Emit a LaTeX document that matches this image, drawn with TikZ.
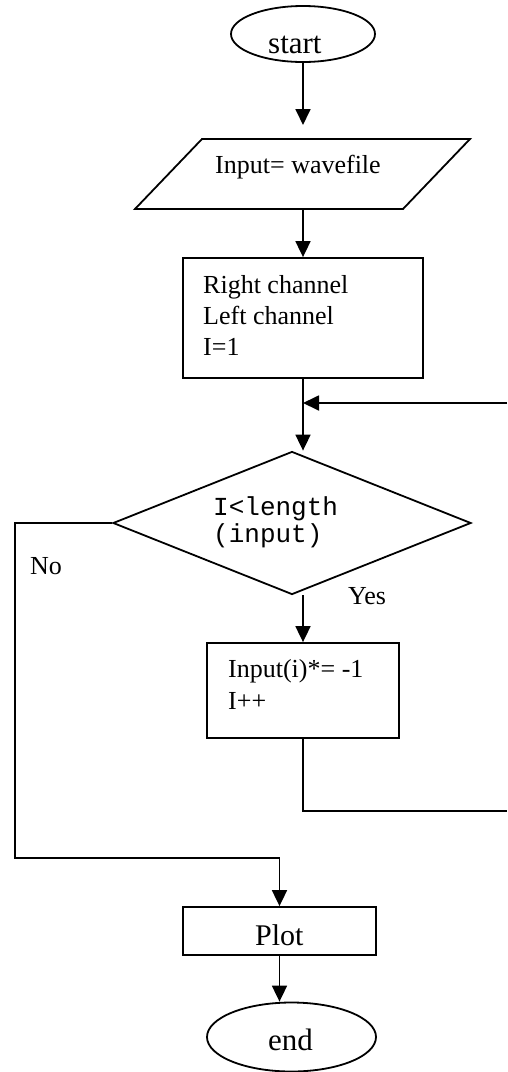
\documentclass[tikz,border=0pt]{standalone}
\usepackage{fontspec}
\setmainfont{Liberation Serif}
\setmonofont{Liberation Mono}
\usetikzlibrary{shapes.geometric,arrows.meta}
\begin{document}
\begin{tikzpicture}[x=1pt,y=-1pt]
\tikzset{
  link/.style={line width=1.8pt},
  flow/.style={link, -{Triangle[length=16pt,width=15pt]}},
  shapebox/.style={draw, line width=1.8pt, inner sep=0pt},
  txt/.style={font=\fontsize{26}{31}\selectfont, inner sep=0pt, anchor=base west},
  monotxt/.style={font=\ttfamily\fontsize{26}{31}\selectfont, inner sep=0pt, anchor=base west},
  bigtxt/.style={font=\fontsize{31}{36}\selectfont, inner sep=0pt, anchor=base west},
}
\useasboundingbox (0,0) rectangle (508,1072);

% shapes
\node[shapebox, ellipse, minimum width=144pt, minimum height=56pt] (start) at (303,34) {};
\coordinate (inpT) at (303,139);
\coordinate (inpB) at (303,209);
\draw[link] (202,139) -- (470,139) -- (403,209) -- (135,209) -- cycle;
\node[shapebox, rectangle, minimum width=240pt, minimum height=120pt] (init) at (303,318) {};
\node[shapebox, diamond, minimum width=358pt, minimum height=143pt] (test) at (292,523) {};
\node[shapebox, rectangle, minimum width=192pt, minimum height=95pt] (body) at (303,690.5) {};
\node[shapebox, rectangle, minimum width=193pt, minimum height=48pt] (plot) at (279.5,931) {};
\node[shapebox, ellipse, minimum width=169pt, minimum height=69pt] (end) at (291.5,1037) {};

% texts
\node[bigtxt] (tstart) at (268,53) {start};
\node[txt] (tinp) at (215,173) {Input= wavefile};
\node[txt] (tinitA) at (203,293) {Right channel};
\node[txt] (tinitB) at (203,324) {Left channel};
\node[txt] (tinitC) at (203,355) {I=1};
\node[monotxt] (ttestA) at (213,515) {I<length};
\node[monotxt] (ttestB) at (213,542) {(input)};
\node[txt] (tno) at (30,574) {No};
\node[txt] (tyes) at (348,604) {Yes};
\node[txt] (tbodyA) at (228,677) {Input(i)*= -1};
\node[txt] (tbodyB) at (228,709) {I++};
\node[txt, font=\fontsize{30}{35}\selectfont] (tplot) at (255,945) {Plot};
\node[bigtxt] (tend) at (268,1050) {end};

% loop ends running off the right edge
\coordinate (loopOut) at (507,811);
\coordinate (loopIn) at (507,403);
\coordinate (noCorner) at (15,523);
\coordinate (noDown) at (15,858);

% connectors
\draw[flow, shorten >=14pt] (start.south) -- (inpT);
\draw[flow] (inpB) -- (init.north);
\draw[flow] (init.south) -- (init.south |- test.north);
\draw[flow] (loopIn) -- (init.south |- loopIn);
\draw[flow] (body.north |- test.south) -- (body.north);
\draw[link] (body.south) |- (loopOut);
\draw[flow] (test.west) -- (noCorner) -- (noDown) -| (plot.north);
\draw[flow] (plot.south) -- (plot.south |- end.north);
\end{tikzpicture}
\end{document}
